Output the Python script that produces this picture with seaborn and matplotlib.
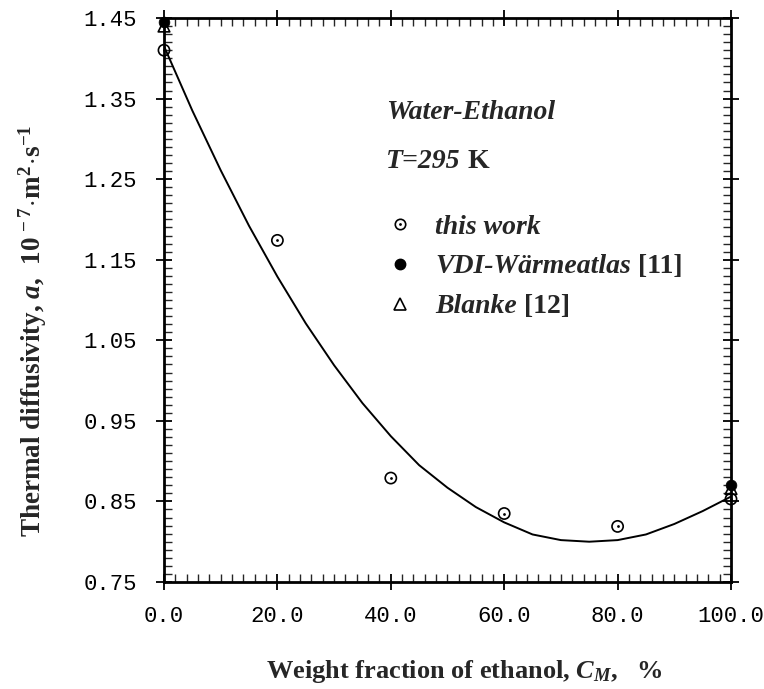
import numpy as np
import pandas as pd
import matplotlib
matplotlib.use("Agg")
import matplotlib.pyplot as plt
import seaborn as sns
from matplotlib.lines import Line2D
from matplotlib.legend_handler import HandlerTuple
from matplotlib.ticker import MultipleLocator

# ---- data ----
this_x = [0, 20, 40, 60, 80, 100]
this_y = [1.410, 1.174, 0.879, 0.835, 0.819, 0.853]
vdi_x = [0, 100]
vdi_y = [1.445, 0.870]
blanke_x = [0, 100]
blanke_y = [1.440, 0.866]
fit_x = [0, 5, 10, 15, 20, 25, 30, 35, 40, 45, 50, 55, 60, 65, 70, 75, 80, 85, 90, 95, 100]
fit_y = [1.415, 1.335, 1.261, 1.192, 1.129, 1.071, 1.019, 0.972, 0.931, 0.895,
         0.867, 0.843, 0.824, 0.809, 0.802, 0.800, 0.802, 0.809, 0.822, 0.838, 0.856]
x_ticks = [0, 20, 40, 60, 80, 100]
y_ticks = [0.75, 0.85, 0.95, 1.05, 1.15, 1.25, 1.35, 1.45]
legend_names = ["this work", "VDI-Wärmeatlas", "Blanke"]
legend_refs = ["", " [11]", " [12]"]

sns.set_style("ticks")
plt.rcParams["font.family"] = ["Liberation Serif", "DejaVu Serif"]
plt.rcParams["font.weight"] = "bold"
plt.rcParams["mathtext.fontset"] = "custom"
plt.rcParams["mathtext.rm"] = "Liberation Serif:bold"
plt.rcParams["mathtext.bf"] = "Liberation Serif:bold"
plt.rcParams["mathtext.it"] = "Liberation Serif:italic:bold"

fig = plt.figure(figsize=(7.64, 6.89), dpi=100)
ax = fig.add_axes([164 / 764, 1 - 582 / 689, 567 / 764, 564 / 689])

fit_df = pd.DataFrame({"x": fit_x, "y": fit_y})
sns.lineplot(data=fit_df, x="x", y="y", ax=ax, color="black", lw=1.4, zorder=2)

sns.scatterplot(x=this_x, y=this_y, ax=ax, marker="o", s=65, color="black",
                facecolor="none", edgecolor="black", linewidth=1.2, zorder=4, clip_on=False)
sns.scatterplot(x=this_x, y=this_y, ax=ax, marker="o", s=4, color="black",
                edgecolor="black", linewidth=0, zorder=5, clip_on=False)
sns.scatterplot(x=blanke_x, y=blanke_y, ax=ax, marker="^", s=70, color="black",
                facecolor="none", edgecolor="black", linewidth=1.2, zorder=3, clip_on=False)
sns.scatterplot(x=vdi_x, y=vdi_y, ax=ax, marker="o", s=60, color="black",
                edgecolor="black", linewidth=0.5, zorder=6, clip_on=False)

ax.set_xlim(0, 100)
ax.set_ylim(0.75, 1.45)
ax.set_xticks(x_ticks, labels=[f"{v:.1f}" for v in x_ticks],
              fontfamily="Liberation Mono", fontsize=16, fontweight="normal")
ax.set_yticks(y_ticks, labels=[f"{v:.2f}" for v in y_ticks],
              fontfamily="Liberation Mono", fontsize=16, fontweight="normal")
ax.xaxis.set_minor_locator(MultipleLocator(2))
ax.yaxis.set_minor_locator(MultipleLocator(0.01))
ax.tick_params(which="major", direction="inout", length=11, width=1.3,
               top=True, right=True, colors="black")
ax.tick_params(which="minor", direction="in", length=6, width=1.0,
               top=True, right=True)
ax.tick_params(axis="x", which="major", pad=12)
ax.tick_params(axis="y", which="major", pad=14)
for sp in ax.spines.values():
    sp.set_linewidth(2.0)
    sp.set_color("black")

ax.set_xlabel(r"Weight fraction of ethanol, $\mathit{C}_{\mathit{M}}$,   %",
              fontsize=19, fontweight="bold")
ax.xaxis.label.set_va("center")
ax.xaxis.label.set_ha("center")
ax.xaxis.set_label_coords(0.53, -0.158)
ax.set_ylabel(r"Thermal diffusivity, $\mathit{a}$,  $10^{\,-7}\!\cdot\!\mathrm{m}^{2}\!\cdot\!\mathrm{s}^{-1}$",
              fontsize=19.5, fontweight="bold")
ax.yaxis.label.set_va("center")
ax.yaxis.label.set_ha("center")
ax.yaxis.set_label_coords(-0.231, 0.445)

ax.text(0.392, 0.833, "Water-Ethanol", transform=ax.transAxes, fontsize=20,
        fontstyle="italic", fontweight="bold", va="center", ha="left")
t1 = ax.text(0.392, 0.745, "T=295", transform=ax.transAxes, fontsize=20,
             fontstyle="italic", fontweight="bold", va="center", ha="left")
ax.annotate(" K", xy=(1, 0), xycoords=t1, va="bottom", ha="left",
            fontsize=20, fontweight="bold", zorder=10)

h_this = (Line2D([], [], marker="o", ls="none", mfc="none", mec="black", ms=7.5, mew=1.2),
          Line2D([], [], marker="o", ls="none", mfc="black", mec="black", ms=2, mew=0))
h_vdi = Line2D([], [], marker="o", ls="none", mfc="black", mec="black", ms=7.5)
h_bl = Line2D([], [], marker="^", ls="none", mfc="none", mec="black", ms=9, mew=1.2)
leg = ax.legend([h_this, h_vdi, h_bl], legend_names,
                handler_map={tuple: HandlerTuple(ndivide=1)},
                loc="upper left", bbox_to_anchor=(0.372, 0.672), frameon=False,
                prop={"size": 20, "weight": "bold", "style": "italic",
                      "family": "Liberation Serif"},
                handlelength=1.0, handletextpad=0.76, labelspacing=0.52,
                borderaxespad=0)
fig.canvas.draw()
for txt, ref in zip(leg.get_texts(), legend_refs):
    if ref:
        ax.annotate(ref, xy=(1, 0), xycoords=txt, va="bottom", ha="left",
                    fontsize=20, fontweight="bold", zorder=10)

fig.savefig("out.png", dpi=100)
